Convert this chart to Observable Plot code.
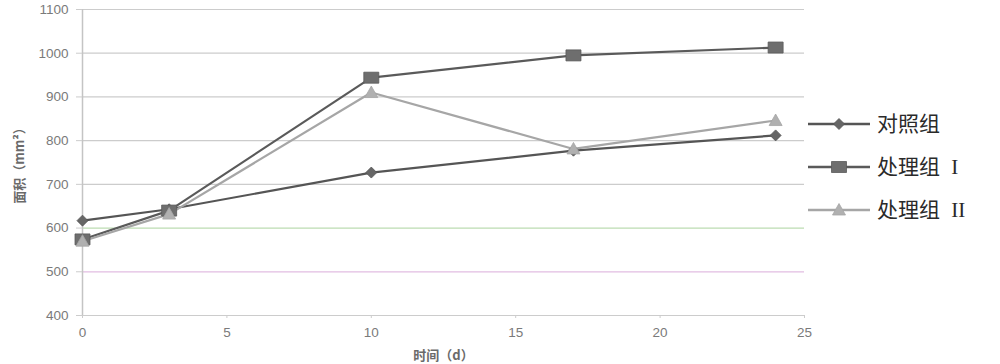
<!DOCTYPE html>
<html><head><meta charset="utf-8">
<script src="https://cdn.jsdelivr.net/npm/d3@7"></script>
<script src="https://cdn.jsdelivr.net/npm/@observablehq/plot@0.6"></script>
<style>
body{margin:0;background:#fff;}
#wrap{position:relative;width:1000px;height:364px;}
</style></head><body><div id="wrap"></div>
<script>
// ---- data ----
const days = [0, 3, 10, 17, 24];
const seriesNames = ["对照组", "处理组 I", "处理组 II"];
const controlArea = [617, 643, 727, 777, 812];
const treatIArea = [574, 640, 944, 995, 1013];
const treatIIArea = [570, 632, 910, 781, 846];
const yTicks = [400, 500, 600, 700, 800, 900, 1000, 1100];
const xTicks = [0, 5, 10, 15, 20, 25];
const xLabel = "时间（d）";
const yLabel = "面积（mm²）";

// ---- styles ----
const seriesColor = ["#555555", "#5a5a5a", "#a6a6a6"];
const seriesFill = ["#666666", "#6e6e6e", "#b0b0b0"];
const gridColor = t => t === 600 ? "#bcdcb2" : t === 500 ? "#e2bde2" : "#cccccc";

// marker shapes (shape only, centred at 0,0)
const diamondSym = {draw(c) { c.moveTo(0, -5.5); c.lineTo(5.5, 0); c.lineTo(0, 5.5); c.lineTo(-5.5, 0); c.closePath(); }};
const squareSym = {draw(c) { c.rect(-7.5, -5.5, 15, 11); }};
const triangleSym = {draw(c) { c.moveTo(0, -6.5); c.lineTo(6.5, 5); c.lineTo(-6.5, 5); c.closePath(); }};
const symbols = [diamondSym, squareSym, triangleSym];

const allSeries = [controlArea, treatIArea, treatIIArea];
const rows = allSeries.flatMap((vals, i) => days.map((d, j) => ({series: seriesNames[i], idx: i, day: d, area: vals[j]})));

const marks = [
  Plot.ruleY(yTicks, {y: d => d, stroke: d => gridColor(d), strokeWidth: 1.2}),
  Plot.ruleX([0], {stroke: "#c4c4c4", strokeWidth: 1.5}),
  Plot.axisY({ticks: yTicks, tickFormat: d3.format("d"), tickSize: 6, tickPadding: 8, stroke: "#cccccc", fill: "#7a7a7a", fontSize: 13.5,
    label: yLabel, labelAnchor: "center", labelArrow: "none", labelOffset: 68}),
  Plot.axisX({ticks: xTicks, tickFormat: d3.format("d"), tickSize: 3, tickPadding: 9, stroke: "#cccccc", fill: "#7a7a7a", fontSize: 13.5,
    label: xLabel, labelAnchor: "center", labelArrow: "none", labelOffset: 44}),
];
allSeries.forEach((vals, i) => {
  const data = rows.filter(r => r.idx === i);
  marks.push(Plot.line(data, {x: "day", y: "area", stroke: seriesColor[i], strokeWidth: 2.2}));
});
allSeries.forEach((vals, i) => {
  const data = rows.filter(r => r.idx === i);
  marks.push(Plot.dot(data, {x: "day", y: "area", symbol: () => symbols[i], r: 5, fill: seriesFill[i], stroke: seriesColor[i], strokeWidth: 0.8}));
});

const chart = Plot.plot({
  width: 1000, height: 364,
  marginLeft: 82, marginRight: 196, marginTop: 9, marginBottom: 49,
  style: {fontFamily: "'Liberation Sans', 'Noto Sans CJK SC', sans-serif", background: "#fff"},
  x: {domain: [0, 25]},
  y: {domain: [400, 1100]},
  symbol: {type: "identity"},
  marks
});
document.getElementById("wrap").appendChild(chart);

// axis title styling
d3.select(chart).selectAll("text").filter(function() { const t = d3.select(this).text(); return t === xLabel || t === yLabel; })
  .attr("font-size", 13).attr("font-weight", "bold").attr("fill", "#6a6a6a")
  .attr("font-family", "'Noto Sans CJK SC', sans-serif");

// legend on the right
const leg = d3.select(chart).append("g").attr("class", "legend")
  .attr("transform", "translate(808,124)");
seriesNames.forEach((name, i) => {
  const g = leg.append("g").attr("transform", `translate(0,${i * 43})`);
  g.append("line").attr("x1", 0).attr("x2", 62).attr("y1", 0).attr("y2", 0)
    .attr("stroke", seriesColor[i]).attr("stroke-width", 2.5);
  g.append("path").attr("transform", "translate(31,0)")
    .attr("d", d3.symbol(symbols[i])()).attr("fill", seriesFill[i]).attr("stroke", seriesColor[i]).attr("stroke-width", 0.8);
  g.append("text").attr("x", 69).attr("y", 7).attr("text-anchor", "start").text(name)
    .attr("font-size", 21).attr("fill", "#2a2a2a").attr("word-spacing", 6)
    .attr("font-family", "'Liberation Serif', 'Noto Sans CJK SC', serif");
});
</script>
</body></html>
